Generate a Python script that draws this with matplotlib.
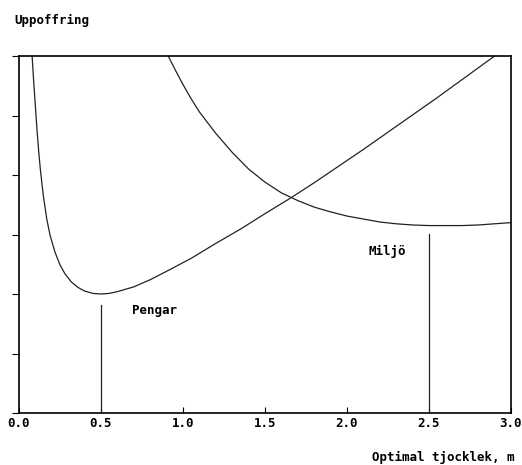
import matplotlib.pyplot as plt

# values (y in arbitrary units 0-6)
pengar_x = [0.08, 0.09, 0.10, 0.11, 0.12, 0.13, 0.14, 0.15, 0.17, 0.19, 0.22, 0.25, 0.28,
            0.32, 0.36, 0.40, 0.45, 0.50, 0.55, 0.60, 0.70, 0.80, 0.92, 1.05, 1.20, 1.35,
            1.50, 1.66, 1.80, 1.95, 2.10, 2.25, 2.40, 2.55, 2.70, 2.80, 2.90]
pengar_y = [6.0, 5.55, 5.15, 4.75, 4.4, 4.1, 3.85, 3.62, 3.25, 2.98, 2.7, 2.49, 2.34,
            2.2, 2.11, 2.05, 2.01, 2.0, 2.01, 2.04, 2.12, 2.24, 2.41, 2.6, 2.85, 3.09,
            3.35, 3.62, 3.87, 4.15, 4.43, 4.72, 5.01, 5.3, 5.6, 5.8, 6.0]

miljo_x = [0.91, 0.95, 1.0, 1.05, 1.1, 1.2, 1.3, 1.4, 1.5, 1.6, 1.7, 1.8, 1.9, 2.0,
           2.1, 2.2, 2.3, 2.4, 2.5, 2.6, 2.7, 2.8, 2.9, 3.0]
miljo_y = [6.0, 5.78, 5.52, 5.28, 5.06, 4.7, 4.38, 4.1, 3.88, 3.7, 3.57, 3.46, 3.38, 3.31,
           3.26, 3.21, 3.18, 3.16, 3.15, 3.15, 3.15, 3.16, 3.18, 3.2]

opt_x = [0.5, 2.5]
opt_top = [1.82, 3.01]

xticks = [0.0, 0.5, 1.0, 1.5, 2.0, 2.5, 3.0]
yticks = [0, 1, 2, 3, 4, 5, 6]

#----------------------------------------------------------PLOTTING----------------------------------------------------------
plt.rcParams['font.family'] = 'DejaVu Sans Mono'
plt.rcParams['font.weight'] = 'bold'
fig = plt.figure(figsize=(5.22, 4.65), dpi=100)
ax = fig.add_axes([19/522, 1-413/465, (511-19)/522, (413-56)/465])

ax.plot(pengar_x, pengar_y, color='#222222', linewidth=0.9)
ax.plot(miljo_x, miljo_y, color='#222222', linewidth=0.9)
for x, top in zip(opt_x, opt_top):
    ax.plot([x, x], [0, top], color='#222222', linewidth=0.9)

ax.text(0.69, 1.73, 'Pengar', fontsize=9, va='center', ha='left')
ax.text(2.13, 2.71, 'Miljö', fontsize=9, va='center', ha='left')

ax.set_xlim(0, 3.0)
ax.set_ylim(0, 6)
ax.set_xticks(xticks)
ax.set_xticklabels([f'{v:.1f}' for v in xticks], fontsize=9)
ax.set_yticks(yticks)
ax.set_yticklabels([])
ax.tick_params(axis='x', direction='in', length=4, width=0.8, pad=3)
ax.tick_params(axis='y', direction='out', length=5, width=0.8)
for s in ax.spines.values():
    s.set_linewidth(1.2)

fig.text(14/522, 1-20/465, 'Uppoffring', fontsize=9, va='center', ha='left')
fig.text(515/522, 1-457/465, 'Optimal tjocklek, m', fontsize=9, va='center', ha='right')

fig.savefig('out.png', dpi=100)
